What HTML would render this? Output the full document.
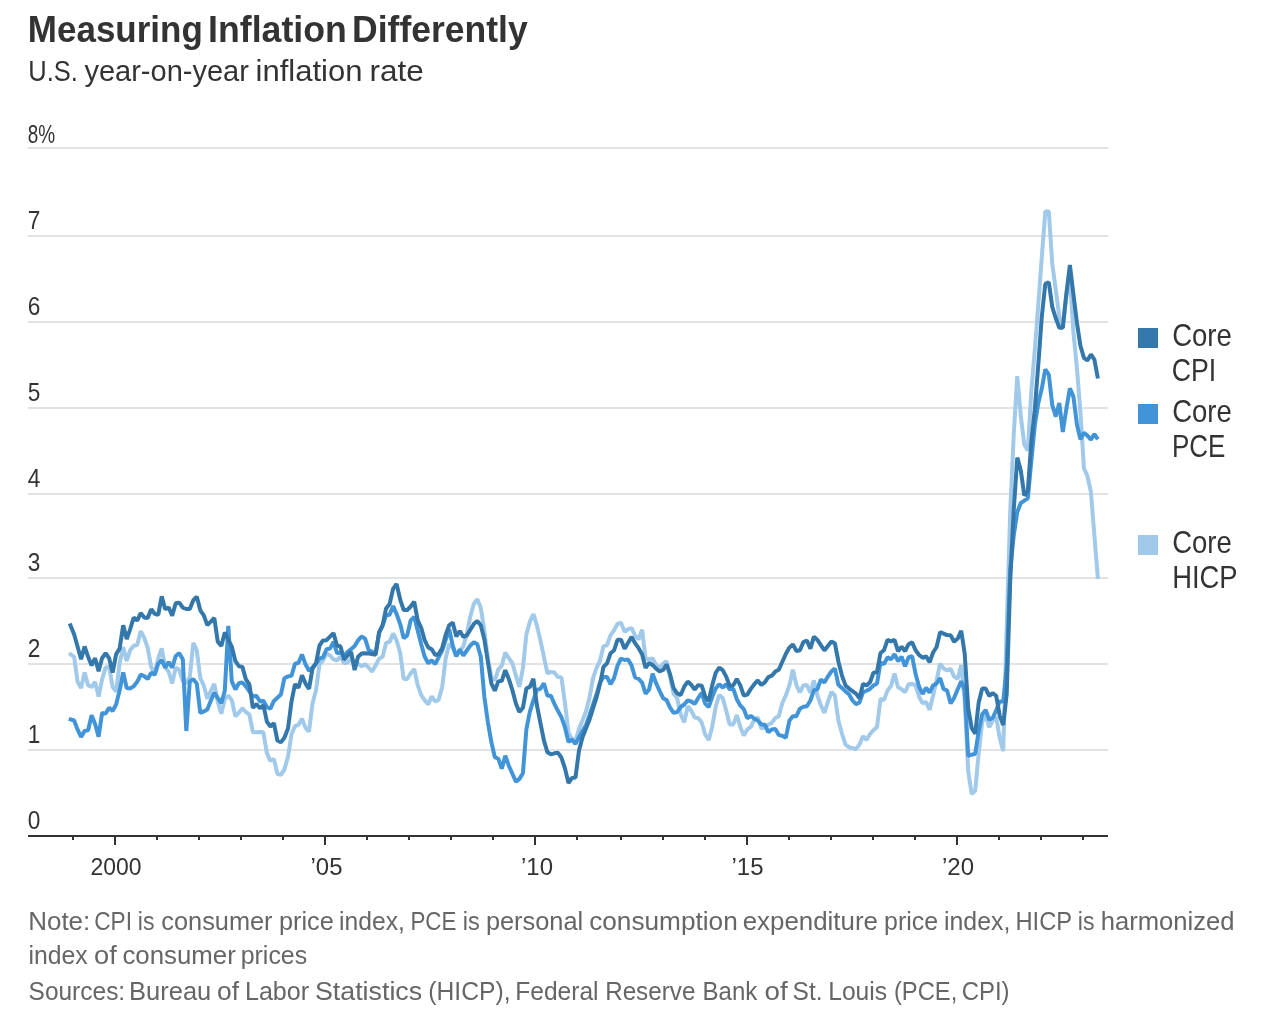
<!DOCTYPE html>
<html lang="en"><head><meta charset="utf-8">
<title>Measuring Inflation Differently</title>
<style>
html,body{margin:0;padding:0;background:#fff;}
body{width:1272px;height:1020px;overflow:hidden;font-family:"Liberation Sans", sans-serif;}
svg{display:block;}
svg text{font-family:"Liberation Sans", sans-serif;}
.ln{fill:none;stroke-width:4;stroke-linejoin:bevel;stroke-linecap:butt;}
</style></head><body>
<svg width="1272" height="1020" viewBox="0 0 1272 1020" role="img" aria-label="Measuring Inflation Differently">
<rect x="0" y="0" width="1272" height="1020" fill="#ffffff"/>
<g id="header">
<text y="42" font-size="37.5" fill="#333333" font-weight="bold"><tspan x="27.84" textLength="174.98" lengthAdjust="spacingAndGlyphs">Measuring</tspan> <tspan x="208.06" textLength="138.72" lengthAdjust="spacingAndGlyphs">Inflation</tspan> <tspan x="352.11" textLength="175.59" lengthAdjust="spacingAndGlyphs">Differently</tspan></text>
<text y="81.3" font-size="30" fill="#333333"><tspan x="28.37" textLength="49.58" lengthAdjust="spacingAndGlyphs">U.S.</tspan> <tspan x="84.40" textLength="164.55" lengthAdjust="spacingAndGlyphs">year-on-year</tspan> <tspan x="255.57" textLength="106.95" lengthAdjust="spacingAndGlyphs">inflation</tspan> <tspan x="369.52" textLength="54.26" lengthAdjust="spacingAndGlyphs">rate</tspan></text>
</g>
<g id="grid" stroke="#e3e3e3" stroke-width="2" shape-rendering="crispEdges">
<line x1="28" y1="148" x2="1108" y2="148"/>
<line x1="28" y1="236" x2="1108" y2="236"/>
<line x1="28" y1="322" x2="1108" y2="322"/>
<line x1="28" y1="408" x2="1108" y2="408"/>
<line x1="28" y1="494" x2="1108" y2="494"/>
<line x1="28" y1="578" x2="1108" y2="578"/>
<line x1="28" y1="664" x2="1108" y2="664"/>
<line x1="28" y1="750" x2="1108" y2="750"/>
</g>
<g id="ylabels">
<text x="27.8" y="142.5" font-size="26" fill="#333333" textLength="27.4" lengthAdjust="spacingAndGlyphs">8%</text>
<text x="27.8" y="229.2" font-size="26" fill="#333333" textLength="12.6" lengthAdjust="spacingAndGlyphs">7</text>
<text x="27.8" y="315.3" font-size="26" fill="#333333" textLength="12.6" lengthAdjust="spacingAndGlyphs">6</text>
<text x="27.8" y="400.8" font-size="26" fill="#333333" textLength="12.6" lengthAdjust="spacingAndGlyphs">5</text>
<text x="27.8" y="486.8" font-size="26" fill="#333333" textLength="12.6" lengthAdjust="spacingAndGlyphs">4</text>
<text x="27.8" y="571" font-size="26" fill="#333333" textLength="12.6" lengthAdjust="spacingAndGlyphs">3</text>
<text x="27.8" y="656.5" font-size="26" fill="#333333" textLength="12.6" lengthAdjust="spacingAndGlyphs">2</text>
<text x="27.8" y="742.5" font-size="26" fill="#333333" textLength="12.6" lengthAdjust="spacingAndGlyphs">1</text>
<text x="27.8" y="828.8" font-size="26" fill="#333333" textLength="12.6" lengthAdjust="spacingAndGlyphs">0</text>
</g>
<g id="series">
<path class="ln" id="line-hicp" stroke="#a1c9ea" d="M69.0,653.1L74.1,656.9L77.6,681.8L81.1,688.0L84.6,672.4L88.1,685.3L91.6,687.0L95.1,682.0L98.6,696.5L102.1,679.3L105.6,667.7L109.1,666.7L112.6,686.8L116.1,691.7L119.6,663.2L123.2,647.0L126.7,661.0L130.2,650.1L133.7,645.7L137.2,645.1L140.7,631.1L144.2,637.8L147.7,647.8L151.2,667.0L154.7,673.8L158.2,658.5L161.7,648.3L165.2,667.3L168.7,671.7L172.2,683.4L175.7,667.6L179.3,669.8L182.8,681.2L186.3,683.3L189.8,676.8L193.3,642.9L196.8,650.4L200.3,678.0L203.8,685.6L207.3,698.7L210.8,691.2L214.3,683.8L217.8,701.9L221.3,713.7L224.8,699.0L228.3,695.6L231.8,700.3L235.4,716.4L238.9,712.8L242.4,708.1L245.9,712.2L249.4,714.7L252.9,732.3L256.4,732.3L259.9,731.9L263.4,732.3L266.9,753.1L270.4,760.8L273.9,759.1L277.4,773.8L280.9,774.9L284.4,769.4L288.0,756.9L291.5,734.2L295.0,726.0L298.5,724.8L302.0,718.7L305.5,727.9L309.0,731.5L312.5,703.4L316.0,690.2L319.5,664.3L323.0,660.6L326.5,653.4L330.0,655.5L333.5,659.3L337.0,660.4L340.5,656.5L344.1,663.2L347.6,662.5L351.1,658.5L354.6,661.2L358.1,663.7L361.6,666.3L365.1,664.2L368.6,667.5L372.1,671.6L375.6,665.6L379.1,658.7L382.6,656.8L386.1,643.0L389.6,641.9L393.1,633.4L396.6,640.4L400.2,653.0L403.7,678.9L407.2,678.9L410.7,673.2L414.2,669.0L417.7,685.2L421.2,695.2L424.7,700.3L428.2,704.4L431.7,696.4L435.2,701.4L438.7,699.6L442.2,687.0L445.7,658.1L449.2,643.8L452.7,647.7L456.3,655.7L459.8,650.5L463.3,646.5L466.8,634.4L470.3,616.5L473.8,604.0L477.3,599.2L480.8,607.7L484.3,630.4L487.8,658.1L491.3,676.9L494.8,680.4L498.3,669.4L501.8,665.6L505.3,652.6L508.8,658.1L512.4,663.1L515.9,675.7L519.4,687.0L522.9,668.1L526.4,634.2L529.9,621.6L533.4,614.2L536.9,625.3L540.4,640.4L543.9,656.8L547.4,673.4L550.9,671.9L554.4,672.5L557.9,676.9L561.4,677.5L564.9,702.6L568.5,732.8L572.0,739.1L575.5,740.6L579.0,729.1L582.5,720.3L586.0,711.4L589.5,697.6L593.0,678.2L596.5,668.1L600.0,660.6L603.5,646.1L607.0,645.2L610.5,635.4L614.0,630.4L617.5,623.8L621.0,622.6L624.6,631.9L628.1,629.1L631.6,628.1L635.1,635.7L638.6,639.3L642.1,629.8L645.6,658.7L649.1,659.3L652.6,658.5L656.1,665.0L659.6,667.7L663.1,663.7L666.6,661.2L670.1,676.9L673.6,693.5L677.1,698.3L680.7,714.3L684.2,722.4L687.7,706.4L691.2,710.6L694.7,717.5L698.2,718.1L701.7,722.5L705.2,734.5L708.7,740.0L712.2,726.9L715.7,706.8L719.2,695.1L722.7,698.0L726.2,710.6L729.7,724.4L733.3,724.4L736.8,715.1L740.3,726.9L743.8,735.5L747.3,729.4L750.8,726.9L754.3,719.6L757.8,717.6L761.3,728.4L764.8,727.5L768.3,724.7L771.8,722.9L775.3,718.1L778.8,716.2L782.3,703.0L785.8,695.5L789.4,685.4L792.9,669.7L796.4,685.4L799.9,692.4L803.4,685.4L806.9,685.0L810.4,692.8L813.9,680.4L817.4,695.5L820.9,705.5L824.4,712.9L827.9,701.8L831.4,692.0L834.9,695.5L838.4,720.6L841.9,733.3L845.5,744.7L849.0,747.2L852.5,748.1L856.0,749.2L859.5,744.3L863.0,736.2L866.5,739.9L870.0,734.0L873.5,730.2L877.0,727.0L880.5,699.0L884.0,700.1L887.5,690.4L891.0,686.0L894.5,673.5L898.0,687.3L901.6,689.2L905.1,692.3L908.6,684.2L912.1,683.9L915.6,685.4L919.1,696.7L922.6,703.2L926.1,702.2L929.6,709.8L933.1,695.5L936.6,680.4L940.1,663.6L943.6,668.4L947.1,670.4L950.6,668.8L954.1,676.6L957.7,678.8L961.2,665.3L964.7,700.5L968.2,771.1L971.7,794.1L975.2,790.8L978.7,753.0L982.2,722.0L985.7,715.0L989.2,727.3L992.7,720.5L996.2,717.0L999.7,738.1L1003.2,751.1L1006.7,627.4L1010.2,512.0L1013.8,433.5L1017.3,376.1L1020.8,416.0L1024.3,444.4L1027.8,450.6L1031.3,392.0L1034.8,350.0L1038.3,305.0L1041.8,257.0L1045.3,211.5L1048.8,211.5L1052.3,264.0L1055.8,290.0L1059.3,317.0L1062.8,326.6L1066.3,296.0L1069.9,277.3L1073.4,332.0L1076.9,368.0L1080.4,412.0L1083.9,468.0L1087.4,476.0L1090.9,492.0L1094.4,535.5L1097.9,579.0"/>
<path class="ln" id="line-pce" stroke="#4294d8" d="M68.8,718.9L74.1,720.5L77.6,729.6L81.1,736.9L84.6,730.9L88.1,730.2L91.6,715.2L95.1,723.9L98.6,736.8L102.1,713.0L105.6,713.6L109.1,707.7L112.6,711.0L116.1,704.4L119.6,690.6L123.2,672.4L126.7,688.1L130.2,688.4L133.7,686.2L137.2,681.8L140.7,674.7L144.2,676.1L147.7,678.9L151.2,672.8L154.7,674.8L158.2,663.6L161.7,660.1L165.2,667.7L168.7,662.0L172.2,667.8L175.7,656.0L179.3,653.2L182.8,659.2L186.3,731.0L189.8,681.2L193.3,679.1L196.8,683.7L200.3,712.9L203.8,711.4L207.3,709.5L210.8,700.7L214.3,692.7L217.8,698.1L221.3,703.2L224.8,690.8L228.3,625.9L231.8,681.4L235.4,689.4L238.9,683.3L242.4,682.5L245.9,686.4L249.4,691.4L252.9,696.6L256.4,695.7L259.9,701.6L263.4,700.7L266.9,707.2L270.4,708.6L273.9,700.9L277.4,697.7L280.9,694.6L284.4,678.2L288.0,676.4L291.5,675.7L295.0,663.7L298.5,662.8L302.0,654.4L305.5,664.3L309.0,670.9L312.5,667.5L316.0,663.7L319.5,658.7L323.0,657.4L326.5,649.2L330.0,648.6L333.5,641.8L337.0,653.2L340.5,652.3L344.1,655.8L347.6,651.8L351.1,649.2L354.6,646.1L358.1,640.4L361.6,636.5L365.1,638.6L368.6,649.9L372.1,651.8L375.6,653.3L379.1,632.9L382.6,625.3L386.1,615.3L389.6,614.7L393.1,606.0L396.6,614.0L400.2,624.1L403.7,638.3L407.2,635.4L410.7,620.3L414.2,616.8L417.7,630.4L421.2,644.2L424.7,656.8L428.2,663.3L431.7,660.4L435.2,664.0L438.7,657.4L442.2,650.5L445.7,639.8L449.2,629.2L452.7,645.5L456.3,656.3L459.8,649.5L463.3,655.6L466.8,650.5L470.3,645.5L473.8,642.2L477.3,644.2L480.8,656.8L484.3,696.5L487.8,721.6L491.3,741.8L494.8,757.1L498.3,758.7L501.8,768.7L505.3,755.7L508.8,765.7L512.4,773.8L515.9,781.7L519.4,778.9L522.9,773.2L526.4,729.2L529.9,711.6L533.4,700.1L536.9,689.8L540.4,688.8L543.9,683.3L547.4,695.7L550.9,695.7L554.4,703.9L557.9,710.8L561.4,717.1L564.9,727.2L568.5,741.9L572.0,739.6L575.5,743.9L579.0,737.2L582.5,730.9L586.0,725.0L589.5,715.2L593.0,704.5L596.5,694.5L600.0,682.5L603.5,676.9L607.0,676.9L610.5,684.2L614.0,678.2L617.5,665.6L621.0,658.5L624.6,660.0L628.1,659.4L631.6,665.6L635.1,677.5L638.6,678.8L642.1,682.6L645.6,693.7L649.1,689.5L652.6,673.8L656.1,683.2L659.6,690.8L663.1,698.2L666.6,700.1L670.1,707.7L673.6,712.8L677.1,712.1L680.7,707.0L684.2,704.5L687.7,700.4L691.2,701.5L694.7,703.9L698.2,698.0L701.7,692.8L705.2,703.6L708.7,707.1L712.2,697.0L715.7,688.6L719.2,684.2L722.7,687.5L726.2,684.2L729.7,689.3L733.3,688.8L736.8,699.2L740.3,705.5L743.8,709.1L747.3,718.4L750.8,715.8L754.3,718.7L757.8,720.6L761.3,724.4L764.8,724.7L768.3,732.2L771.8,729.4L775.3,729.1L778.8,735.1L782.3,735.7L785.8,737.9L789.4,720.6L792.9,716.2L796.4,716.2L799.9,708.7L803.4,706.8L806.9,706.2L810.4,700.5L813.9,690.1L817.4,689.4L820.9,679.4L824.4,682.5L827.9,676.6L831.4,671.3L834.9,668.7L838.4,684.8L841.9,687.9L845.5,691.4L849.0,694.2L852.5,700.5L856.0,704.2L859.5,702.4L863.0,692.3L866.5,690.7L870.0,688.9L873.5,685.4L877.0,683.5L880.5,662.5L884.0,664.2L887.5,657.3L891.0,659.4L894.5,654.2L898.0,661.2L901.6,656.7L905.1,666.4L908.6,657.1L912.1,656.2L915.6,674.1L919.1,686.7L922.6,694.0L926.1,687.6L929.6,692.7L933.1,685.4L936.6,683.5L940.1,678.0L943.6,689.2L947.1,690.4L950.6,703.5L954.1,698.0L957.7,689.2L961.2,681.2L964.7,690.4L968.2,755.8L971.7,754.7L975.2,753.8L978.7,731.3L982.2,714.2L985.7,709.9L989.2,719.8L992.7,717.8L996.2,710.4L999.7,701.6L1003.2,701.6L1006.7,666.0L1010.2,569.5L1013.8,535.0L1017.3,512.0L1020.8,503.0L1024.3,500.7L1027.8,498.3L1031.3,461.0L1034.8,425.5L1038.3,403.0L1041.8,388.5L1045.3,369.3L1048.8,374.5L1052.3,405.4L1055.8,416.6L1059.3,402.9L1062.8,431.9L1066.3,409.2L1069.9,388.4L1073.4,396.6L1076.9,424.3L1080.4,439.2L1083.9,432.8L1087.4,435.6L1090.9,439.6L1094.4,434.0L1097.9,439.3"/>
<path class="ln" id="line-cpi" stroke="#3377ab" d="M69.7,623.5L74.1,634.2L77.6,646.7L81.1,659.3L84.6,646.4L88.1,656.8L91.6,665.4L95.1,658.2L98.6,671.2L102.1,658.1L105.6,653.3L109.1,658.1L112.6,672.5L116.1,654.3L119.6,648.6L123.2,625.3L126.7,639.1L130.2,629.1L133.7,617.5L137.2,620.6L140.7,613.0L144.2,617.5L147.7,617.9L151.2,609.2L154.7,613.8L158.2,614.9L161.7,596.4L165.2,609.2L168.7,607.5L172.2,615.8L175.7,603.3L179.3,602.6L182.8,607.7L186.3,609.0L189.8,609.0L193.3,600.2L196.8,596.7L200.3,610.3L203.8,615.3L207.3,625.1L210.8,621.6L214.3,618.0L217.8,641.7L221.3,646.1L224.8,632.4L228.3,639.8L231.8,646.7L235.4,661.2L238.9,666.2L242.4,666.9L245.9,679.4L249.4,684.5L252.9,708.0L256.4,704.0L259.9,708.3L263.4,705.2L266.9,721.6L270.4,726.7L273.9,723.1L277.4,740.5L280.9,742.2L284.4,737.7L288.0,728.6L291.5,701.5L295.0,684.1L298.5,687.8L302.0,675.2L305.5,683.6L309.0,688.8L312.5,668.6L316.0,663.1L319.5,645.5L323.0,640.4L326.5,640.2L330.0,636.7L333.5,633.1L337.0,645.5L340.5,646.5L344.1,659.7L347.6,655.5L351.1,652.0L354.6,670.0L358.1,656.8L361.6,653.6L365.1,653.3L368.6,653.6L372.1,654.0L375.6,654.8L379.1,632.3L382.6,625.3L386.1,608.4L389.6,604.0L393.1,588.9L396.6,584.0L400.2,599.6L403.7,610.0L407.2,610.0L410.7,606.5L414.2,601.6L417.7,620.3L421.2,627.9L424.7,640.4L428.2,647.4L431.7,649.2L435.2,655.1L438.7,654.0L442.2,648.0L445.7,634.8L449.2,625.3L452.7,622.5L456.3,636.5L459.8,631.0L463.3,636.8L466.8,635.4L470.3,629.7L473.8,624.1L477.3,621.1L480.8,625.3L484.3,639.2L487.8,661.3L491.3,683.3L494.8,690.7L498.3,681.4L501.8,680.8L505.3,670.2L508.8,678.9L512.4,690.2L515.9,703.4L519.4,711.9L522.9,707.8L526.4,688.3L529.9,686.9L533.4,678.8L536.9,705.2L540.4,722.8L543.9,740.4L547.4,752.3L550.9,754.3L554.4,753.3L557.9,752.6L561.4,757.7L564.9,768.1L568.5,783.0L572.0,777.9L575.5,777.5L579.0,750.4L582.5,737.2L586.0,728.4L589.5,719.6L593.0,708.3L596.5,697.6L600.0,683.8L603.5,666.9L607.0,663.3L610.5,653.3L614.0,650.5L617.5,639.8L621.0,639.8L624.6,648.7L628.1,642.7L631.6,636.9L635.1,643.2L638.6,648.2L642.1,654.3L645.6,667.9L649.1,662.9L652.6,665.0L656.1,668.7L659.6,671.3L663.1,670.0L666.6,664.5L670.1,674.4L673.6,688.2L677.1,693.3L680.7,695.1L684.2,686.7L687.7,681.6L691.2,684.8L694.7,689.5L698.2,685.1L701.7,685.7L705.2,696.7L708.7,700.9L712.2,685.4L715.7,672.8L719.2,667.6L722.7,670.1L726.2,676.6L729.7,686.0L733.3,685.4L736.8,679.0L740.3,685.4L743.8,695.7L747.3,694.6L750.8,688.9L754.3,684.2L757.8,680.4L761.3,684.9L764.8,682.3L768.3,677.2L771.8,675.7L775.3,671.6L778.8,669.7L782.3,661.8L785.8,654.0L789.4,647.4L792.9,644.4L796.4,651.0L799.9,650.2L803.4,642.0L806.9,640.5L810.4,648.8L813.9,636.6L817.4,639.9L820.9,645.2L824.4,650.5L827.9,646.0L831.4,641.6L834.9,643.3L838.4,661.5L841.9,675.3L845.5,685.4L849.0,688.6L852.5,691.1L856.0,693.6L859.5,698.2L863.0,683.9L866.5,685.5L870.0,682.3L873.5,672.8L877.0,672.2L880.5,653.0L884.0,650.2L887.5,639.9L891.0,641.4L894.5,639.9L898.0,651.2L901.6,646.8L905.1,651.2L908.6,644.2L912.1,642.4L915.6,650.2L919.1,655.0L922.6,657.8L926.1,656.3L929.6,662.2L933.1,652.5L936.6,647.0L940.1,632.1L943.6,633.6L947.1,635.1L950.6,635.3L954.1,641.7L957.7,638.6L961.2,630.8L964.7,653.7L968.2,708.1L971.7,728.2L975.2,733.7L978.7,702.4L982.2,688.6L985.7,688.6L989.2,695.8L992.7,693.2L996.2,695.8L999.7,715.6L1003.2,725.1L1006.7,694.1L1010.2,581.4L1013.8,509.2L1017.3,457.6L1020.8,470.5L1024.3,495.4L1027.8,491.1L1031.3,442.1L1034.8,409.4L1038.3,364.7L1041.8,316.6L1045.3,283.9L1048.8,282.2L1052.3,307.1L1055.8,318.3L1059.3,327.7L1062.8,327.7L1066.3,294.2L1069.9,265.0L1073.4,294.2L1076.9,322.6L1080.4,345.8L1083.9,357.8L1087.4,360.4L1090.9,354.4L1094.4,359.6L1097.9,378.5"/>
</g>
<g id="xaxis" stroke="#333333" stroke-width="2" shape-rendering="crispEdges">
<line x1="28" y1="836" x2="1108" y2="836"/>
<line x1="73" y1="836" x2="73" y2="840"/>
<line x1="115" y1="836" x2="115" y2="845"/>
<line x1="157" y1="836" x2="157" y2="840"/>
<line x1="199" y1="836" x2="199" y2="840"/>
<line x1="241" y1="836" x2="241" y2="840"/>
<line x1="283" y1="836" x2="283" y2="840"/>
<line x1="325" y1="836" x2="325" y2="845"/>
<line x1="367" y1="836" x2="367" y2="840"/>
<line x1="409" y1="836" x2="409" y2="840"/>
<line x1="451" y1="836" x2="451" y2="840"/>
<line x1="493" y1="836" x2="493" y2="840"/>
<line x1="535" y1="836" x2="535" y2="845"/>
<line x1="577" y1="836" x2="577" y2="840"/>
<line x1="621" y1="836" x2="621" y2="840"/>
<line x1="663" y1="836" x2="663" y2="840"/>
<line x1="705" y1="836" x2="705" y2="840"/>
<line x1="747" y1="836" x2="747" y2="845"/>
<line x1="789" y1="836" x2="789" y2="840"/>
<line x1="831" y1="836" x2="831" y2="840"/>
<line x1="873" y1="836" x2="873" y2="840"/>
<line x1="915" y1="836" x2="915" y2="840"/>
<line x1="957" y1="836" x2="957" y2="845"/>
<line x1="999" y1="836" x2="999" y2="840"/>
<line x1="1041" y1="836" x2="1041" y2="840"/>
<line x1="1083" y1="836" x2="1083" y2="840"/>
</g>
<g id="xlabels">
<text x="116.0" y="875" font-size="24" fill="#333333" text-anchor="middle" textLength="51" lengthAdjust="spacingAndGlyphs">2000</text>
<text x="326.5" y="875" font-size="24" fill="#333333" text-anchor="middle" textLength="32" lengthAdjust="spacingAndGlyphs">’05</text>
<text x="537.0" y="875" font-size="24" fill="#333333" text-anchor="middle" textLength="32" lengthAdjust="spacingAndGlyphs">’10</text>
<text x="747.5" y="875" font-size="24" fill="#333333" text-anchor="middle" textLength="32" lengthAdjust="spacingAndGlyphs">’15</text>
<text x="958.0" y="875" font-size="24" fill="#333333" text-anchor="middle" textLength="32" lengthAdjust="spacingAndGlyphs">’20</text>
</g>
<g id="legend">
<rect x="1138" y="328" width="20" height="20" fill="#3377ab"/>
<text x="1172.2" y="345.6" font-size="31.2" fill="#333333" textLength="59.6" lengthAdjust="spacingAndGlyphs">Core</text>
<text x="1171.8" y="381.3" font-size="31.2" fill="#333333" textLength="44.5" lengthAdjust="spacingAndGlyphs">CPI</text>
<rect x="1138" y="404" width="20" height="20" fill="#4294d8"/>
<text x="1172.2" y="421.5" font-size="31.2" fill="#333333" textLength="59.6" lengthAdjust="spacingAndGlyphs">Core</text>
<text x="1172.0" y="457.3" font-size="31.2" fill="#333333" textLength="53.4" lengthAdjust="spacingAndGlyphs">PCE</text>
<rect x="1138" y="535" width="20" height="20" fill="#a1c9ea"/>
<text x="1172.2" y="552.5" font-size="31.2" fill="#333333" textLength="59.6" lengthAdjust="spacingAndGlyphs">Core</text>
<text x="1172.2" y="588.1" font-size="31.2" fill="#333333" textLength="65.4" lengthAdjust="spacingAndGlyphs">HICP</text>
</g>
<g id="footer">
<text y="930" font-size="26" fill="#666666"><tspan x="28.19" textLength="62.09" lengthAdjust="spacingAndGlyphs">Note:</tspan> <tspan x="94.21" textLength="37.77" lengthAdjust="spacingAndGlyphs">CPI</tspan> <tspan x="137.81" textLength="16.64" lengthAdjust="spacingAndGlyphs">is</tspan> <tspan x="161.33" textLength="111.17" lengthAdjust="spacingAndGlyphs">consumer</tspan> <tspan x="279.00" textLength="54.69" lengthAdjust="spacingAndGlyphs">price</tspan> <tspan x="339.09" textLength="65.78" lengthAdjust="spacingAndGlyphs">index,</tspan> <tspan x="410.43" textLength="45.92" lengthAdjust="spacingAndGlyphs">PCE</tspan> <tspan x="462.80" textLength="17.01" lengthAdjust="spacingAndGlyphs">is</tspan> <tspan x="485.88" textLength="97.28" lengthAdjust="spacingAndGlyphs">personal</tspan> <tspan x="589.17" textLength="148.60" lengthAdjust="spacingAndGlyphs">consumption</tspan> <tspan x="742.73" textLength="135.24" lengthAdjust="spacingAndGlyphs">expenditure</tspan> <tspan x="884.07" textLength="53.93" lengthAdjust="spacingAndGlyphs">price</tspan> <tspan x="943.98" textLength="66.35" lengthAdjust="spacingAndGlyphs">index,</tspan> <tspan x="1015.48" textLength="56.20" lengthAdjust="spacingAndGlyphs">HICP</tspan> <tspan x="1077.81" textLength="16.64" lengthAdjust="spacingAndGlyphs">is</tspan> <tspan x="1100.75" textLength="133.88" lengthAdjust="spacingAndGlyphs">harmonized</tspan></text>
<text y="964" font-size="26" fill="#666666"><tspan x="28.54" textLength="59.22" lengthAdjust="spacingAndGlyphs">index</tspan> <tspan x="94.13" textLength="22.71" lengthAdjust="spacingAndGlyphs">of</tspan> <tspan x="122.38" textLength="113.43" lengthAdjust="spacingAndGlyphs">consumer</tspan> <tspan x="240.74" textLength="66.39" lengthAdjust="spacingAndGlyphs">prices</tspan></text>
<text y="999.7" font-size="26" fill="#666666"><tspan x="28.55" textLength="96.63" lengthAdjust="spacingAndGlyphs">Sources:</tspan> <tspan x="129.10" textLength="82.14" lengthAdjust="spacingAndGlyphs">Bureau</tspan> <tspan x="217.10" textLength="22.00" lengthAdjust="spacingAndGlyphs">of</tspan> <tspan x="244.93" textLength="64.19" lengthAdjust="spacingAndGlyphs">Labor</tspan> <tspan x="314.97" textLength="107.15" lengthAdjust="spacingAndGlyphs">Statistics</tspan> <tspan x="428.28" textLength="82.23" lengthAdjust="spacingAndGlyphs">(HICP),</tspan> <tspan x="515.26" textLength="83.31" lengthAdjust="spacingAndGlyphs">Federal</tspan> <tspan x="605.13" textLength="90.25" lengthAdjust="spacingAndGlyphs">Reserve</tspan> <tspan x="702.62" textLength="54.73" lengthAdjust="spacingAndGlyphs">Bank</tspan> <tspan x="764.53" textLength="23.12" lengthAdjust="spacingAndGlyphs">of</tspan> <tspan x="792.54" textLength="29.98" lengthAdjust="spacingAndGlyphs">St.</tspan> <tspan x="828.19" textLength="58.96" lengthAdjust="spacingAndGlyphs">Louis</tspan> <tspan x="893.95" textLength="63.36" lengthAdjust="spacingAndGlyphs">(PCE,</tspan> <tspan x="961.67" textLength="47.86" lengthAdjust="spacingAndGlyphs">CPI)</tspan></text>
</g>
</svg>
</body></html>
